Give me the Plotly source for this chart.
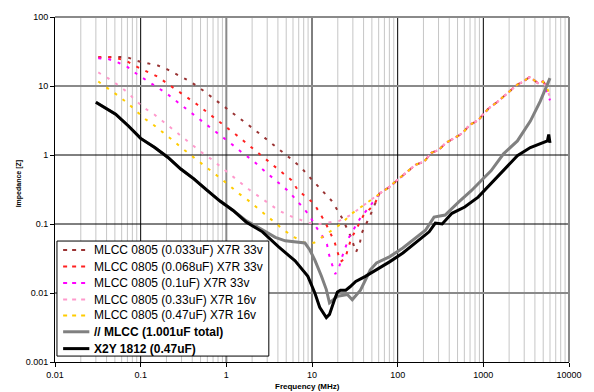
import plotly.graph_objects as go

FONT = "Liberation Sans, Arial, sans-serif"

# ---- measured impedance curves (frequency in MHz, impedance in ohms) ----
# shared inductive region of the single 0805 MLCC parts (above ~60 MHz)
f_tail = [61, 79, 100, 124, 161, 204, 245, 303, 366, 465, 573, 690, 875, 1000,
          1160, 1440, 1580, 2020, 2500, 2930, 3440, 3820, 4350, 4970]
z_tail = [0.275, 0.34, 0.44, 0.555, 0.72, 0.80, 1.07, 1.19, 1.50, 1.77, 2.08, 2.72,
          3.2, 3.9, 4.77, 5.8, 6.42, 8.4, 10.5, 11.6, 13.4, 12.4, 11.0, 11.6]

f_033 = [0.032, 0.0415, 0.054, 0.070, 0.091, 0.119, 0.159, 0.207, 0.269, 0.351, 0.456,
         0.593, 0.79, 1.0, 1.31, 1.70, 2.16, 2.81, 3.66, 4.63, 5.87, 7.64, 9.19, 14.0,
         16.8, 19.2, 22.5, 28.5, 32.6, 36.2, 38.1, 48.0, 53.6]
z_033 = [26.0, 26.3, 26.4, 26.0, 23.1, 21.4, 19.8, 17.3, 14.7, 12.2, 10.0, 7.8, 6.1,
         4.8, 3.7, 2.94, 2.3, 1.77, 1.37, 1.07, 0.85, 0.64, 0.49, 0.28, 0.22, 0.169,
         0.121, 0.065, 0.039, 0.053, 0.074, 0.134, 0.192]
f_033_end = [5510, 5900]
z_033_end = [10.0, 9.3]

f_068 = [0.032, 0.0415, 0.054, 0.070, 0.091, 0.119, 0.159, 0.201, 0.269, 0.351, 0.456,
         0.593, 0.77, 1.0, 1.31, 1.66, 2.10, 2.74, 3.47, 4.51, 5.72, 6.9, 10.5, 12.3,
         14.2, 18.3, 19.8, 21.5, 24.3, 26.5, 28.5, 32.4, 40.1, 53.6]
z_068 = [26.0, 26.3, 25.2, 22.6, 18.9, 16.0, 13.6, 11.0, 8.66, 6.8, 5.4, 4.2, 3.3, 2.5,
         1.95, 1.53, 1.19, 0.92, 0.72, 0.555, 0.436, 0.306, 0.199, 0.144, 0.107, 0.0553,
         0.0385, 0.0285, 0.0312, 0.0435, 0.0605, 0.0814, 0.135, 0.192]
f_068_end = [5510, 5900]
z_068_end = [9.6, 8.8]

f_100 = [0.032, 0.0415, 0.054, 0.070, 0.091, 0.119, 0.155, 0.201, 0.262, 0.341, 0.445,
         0.564, 0.733, 0.953, 1.24, 1.57, 2.05, 2.60, 3.29, 4.17, 5.28, 6.65, 7.85, 9.44,
         10.8, 13.0, 15.0, 15.7, 17.2, 18.7, 20.8, 22.5, 27.2, 31.7, 37.1, 46.7]
z_100 = [25.2, 24.7, 22.0, 18.9, 14.8, 12.0, 9.6, 7.8, 6.0, 4.66, 3.67, 2.87, 2.23, 1.73,
         1.34, 1.05, 0.83, 0.634, 0.49, 0.382, 0.30, 0.22, 0.174, 0.131, 0.096, 0.069,
         0.050, 0.037, 0.0256, 0.0188, 0.0242, 0.0337, 0.065, 0.091, 0.125, 0.176]
f_100_end = [5510, 6000]
z_100_end = [8.5, 6.2]

f_330 = [0.032, 0.0415, 0.054, 0.070, 0.087, 0.11, 0.143, 0.186, 0.236, 0.307, 0.39,
         0.505, 0.66, 0.856, 1.11, 1.42, 1.84, 2.41, 3.11, 4.05, 5.27, 7.06, 9.07, 11.6,
         15.4, 20.8, 28.0, 36.2, 47.9]
z_330 = [15.7, 13.0, 10.4, 8.1, 6.2, 4.8, 3.9, 3.0, 2.35, 1.78, 1.40, 1.11, 0.88, 0.68,
         0.52, 0.40, 0.316, 0.25, 0.197, 0.158, 0.134, 0.116, 0.104, 0.099, 0.104, 0.111,
         0.134, 0.168, 0.22]
f_330_end = [5510, 6000]
z_330_end = [9.3, 6.8]

f_470 = [0.032, 0.0415, 0.054, 0.070, 0.087, 0.11, 0.143, 0.186, 0.236, 0.30, 0.39,
         0.505, 0.643, 0.835, 1.09, 1.38, 1.8, 2.3, 2.95, 3.7, 4.8, 6.19, 8.05, 10.6,
         13.7, 17.4, 22.7, 28.0, 36.2, 47.9]
z_470 = [11.6, 9.3, 7.3, 5.67, 4.4, 3.4, 2.7, 2.1, 1.64, 1.27, 0.99, 0.77, 0.60, 0.47,
         0.36, 0.28, 0.22, 0.17, 0.135, 0.103, 0.08, 0.0646, 0.0535, 0.0535, 0.067, 0.081,
         0.104, 0.137, 0.172, 0.22]
f_470_end = [5510, 6000]
z_470_end = [9.5, 7.4]

# five MLCCs in parallel (1.001 uF total)
f_par = [0.030, 0.039, 0.051, 0.072, 0.10, 0.146, 0.207, 0.294, 0.418, 0.593, 0.843, 1.2,
         1.7, 2.22, 2.88, 3.73, 4.87, 6.35, 8.28, 9.44, 10.8, 12.9, 14.7, 16.0, 19.9, 25.9,
         29.5, 36.8, 48, 56.6, 81, 115, 161, 211, 266, 358, 514, 729, 948, 1230, 1720,
         2500, 3540, 4610, 6000]
z_par = [5.81, 4.8, 3.9, 2.63, 1.74, 1.28, 0.93, 0.627, 0.45, 0.31, 0.215, 0.157,
         0.112, 0.093, 0.077, 0.064, 0.057, 0.055, 0.053, 0.042, 0.030, 0.0175, 0.0112,
         0.0072, 0.009, 0.0095, 0.0080, 0.011, 0.0217, 0.0273, 0.0337, 0.0449, 0.0625,
         0.0813, 0.126, 0.135, 0.208, 0.306, 0.426, 0.59, 1.04, 1.60, 3.10, 6.0, 13.0]

# X2Y 1812 (0.47 uF)
f_x2y = [0.030, 0.039, 0.051, 0.072, 0.10, 0.146, 0.207, 0.294, 0.418, 0.593, 0.843, 1.2,
         1.7, 2.64, 4.05, 6.35, 8.95, 10.8, 12.3, 14.7, 16.0, 18.3, 19.8, 21.5, 24.8, 27.8,
         32.4, 42.0, 52.3, 68.1, 81.2, 115, 161, 233, 275, 331, 430, 606, 870, 1236,
         1720, 2495, 3540, 4970, 5600, 5800, 6000]
z_x2y = [5.81, 4.8, 3.9, 2.63, 1.74, 1.28, 0.93, 0.627, 0.45, 0.31, 0.215, 0.157, 0.107,
         0.077, 0.0469, 0.0292, 0.0174, 0.010, 0.0062, 0.0044, 0.0049, 0.0080, 0.0103,
         0.011, 0.011, 0.0123, 0.0147, 0.0174, 0.0205, 0.0248, 0.0285, 0.038, 0.053,
         0.077, 0.103, 0.10, 0.143, 0.176, 0.245, 0.386, 0.593, 0.975, 1.28, 1.51, 1.6,
         1.98, 1.5]

# ---- series styling ----
mlcc_series = [
    ("MLCC 0805 (0.033uF) X7R 33v", f_033 + f_tail + f_033_end, z_033 + z_tail + z_033_end, "#993333"),
    ("MLCC 0805 (0.068uF) X7R 33v", f_068 + f_tail + f_068_end, z_068 + z_tail + z_068_end, "#ff2020"),
    ("MLCC 0805 (0.1uF) X7R 33v", f_100 + f_tail + f_100_end, z_100 + z_tail + z_100_end, "#ff00ff"),
    ("MLCC 0805 (0.33uF) X7R 16v", f_330 + f_tail + f_330_end, z_330 + z_tail + z_330_end, "#ff99cc"),
    ("MLCC 0805 (0.47uF) X7R 16v", f_470 + f_tail + f_470_end, z_470 + z_tail + z_470_end, "#ffcc00"),
]
solid_series = [
    ("<b>// MLCC (1.001uF total)</b>", f_par, z_par, "#808080"),
    ("<b>X2Y 1812 (0.47uF)</b>", f_x2y, z_x2y, "#000000"),
]

x_ticks = [0.01, 0.1, 1, 10, 100, 1000, 10000]
x_ticktext = ["0.01", "0.1", "1", "10", "100", "1000", "10000"]
y_ticks = [0.001, 0.01, 0.1, 1, 10, 100]
y_ticktext = ["0.001", "0.01", "0.1", "1", "10", "100"]

fig = go.Figure()

# minor vertical gridlines (2..9 within every decade)
mx, my = [], []
for dec in x_ticks[:-1]:
    for d in range(2, 10):
        mx += [d * dec, d * dec, None]
        my += [y_ticks[0], y_ticks[-1], None]
fig.add_trace(go.Scatter(x=mx, y=my, mode="lines", line=dict(color="#c6c6c6", width=1),
                         hoverinfo="skip", showlegend=False))

# major gridlines
x_major = [(0.1, "#000000", 1), (1, "#8a8a8a", 2), (10, "#000000", 1),
           (100, "#000000", 1), (1000, "#000000", 1)]
for v, c, w in x_major:
    fig.add_trace(go.Scatter(x=[v, v], y=[y_ticks[0], y_ticks[-1]], mode="lines",
                             line=dict(color=c, width=w), hoverinfo="skip", showlegend=False))
y_major = [(10, "#8a8a8a", 2), (1, "#000000", 1), (0.1, "#000000", 1), (0.01, "#8a8a8a", 2)]
for v, c, w in y_major:
    fig.add_trace(go.Scatter(x=[x_ticks[0], x_ticks[-1]], y=[v, v], mode="lines",
                             line=dict(color=c, width=w), hoverinfo="skip", showlegend=False))

for name, fx, zy, col in mlcc_series:
    fig.add_trace(go.Scatter(x=fx, y=zy, mode="lines", name=name, showlegend=False,
                             line=dict(color=col, width=2, dash="3px,7px")))
for name, fx, zy, col in solid_series:
    fig.add_trace(go.Scatter(x=fx, y=zy, mode="lines", name=name, showlegend=False,
                             line=dict(color=col, width=3)))

# plot-area frame on top and right
shapes = [
    dict(type="line", xref="paper", yref="paper", x0=0, x1=1, y0=1, y1=1,
         line=dict(color="#8a8a8a", width=2)),
    dict(type="line", xref="paper", yref="paper", x0=1, x1=1, y0=0, y1=1,
         line=dict(color="#8a8a8a", width=2)),
]
annotations = []

# legend box
shapes.append(dict(type="rect", xref="paper", yref="paper", x0=0.0038, x1=0.416,
                   y0=0.0172, y1=0.3506, fillcolor="white",
                   line=dict(color="#000000", width=1)))
row_y = [0.3247, 0.2767, 0.2290, 0.1810, 0.1351, 0.0876, 0.0388]
entries = [(n, c, "4px,5px", 2) for n, _, _, c in mlcc_series] + \
          [(n, c, "solid", 3) for n, _, _, c in solid_series]
for (name, col, dash, w), yy in zip(entries, row_y):
    shapes.append(dict(type="line", xref="paper", yref="paper", x0=0.0158, x1=0.0668,
                       y0=yy, y1=yy, line=dict(color=col, width=w, dash=dash)))
    annotations.append(dict(xref="paper", yref="paper", x=0.0725, y=yy, text=name,
                            showarrow=False, xanchor="left", yanchor="middle",
                            font=dict(family=FONT, size=12, color="#000000")))

# axis titles
annotations.append(dict(xref="paper", yref="paper", x=-0.0706, y=0.517,
                        text="<b>Impedance [Z]</b>", textangle=-90, showarrow=False,
                        xanchor="center", yanchor="middle",
                        font=dict(family=FONT, size=7, color="#000000")))
annotations.append(dict(xref="paper", yref="paper", x=0.492, y=-0.0715,
                        text="<b>Frequency (MHz)</b>", showarrow=False,
                        xanchor="center", yanchor="middle",
                        font=dict(family=FONT, size=8, color="#000000")))

fig.update_layout(
    width=594, height=392,
    margin=dict(l=55, r=15, t=15, b=29),
    paper_bgcolor="white", plot_bgcolor="white",
    showlegend=False,
    shapes=shapes, annotations=annotations,
    font=dict(family=FONT, size=9, color="#000000"),
)
fig.update_xaxes(type="log", range=[-2, 4], showgrid=False, zeroline=False,
                 tickmode="array", tickvals=x_ticks, ticktext=x_ticktext,
                 ticks="outside", ticklen=4, tickcolor="#000000",
                 showline=True, linecolor="#000000", linewidth=1,
                 tickfont=dict(family=FONT, size=9, color="#000000"))
fig.update_yaxes(type="log", range=[-3, 2], showgrid=False, zeroline=False,
                 tickmode="array", tickvals=y_ticks, ticktext=y_ticktext,
                 ticks="outside", ticklen=4, tickcolor="#000000",
                 showline=True, linecolor="#000000", linewidth=1,
                 tickfont=dict(family=FONT, size=9, color="#000000"))

fig.write_html("out.html")
